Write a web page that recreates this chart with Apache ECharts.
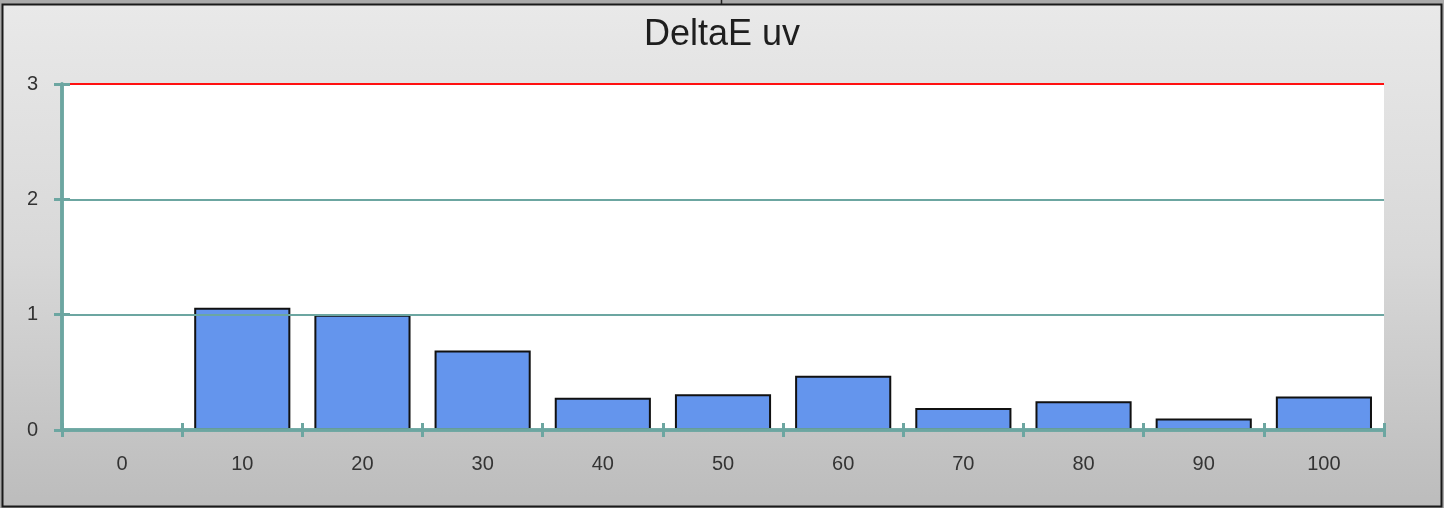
<!DOCTYPE html>
<html>
<head>
<meta charset="utf-8">
<script src="https://cdn.jsdelivr.net/npm/echarts@6/dist/echarts.min.js"></script>
<style>
html,body{margin:0;padding:0;background:#a9a9a9;}
#chart{width:1444px;height:508px;}
</style>
</head>
<body>
<div id="chart"></div>
<script>
var categories = ['0','10','20','30','40','50','60','70','80','90','100'];
var deltaEuv = [0, 1.06, 1.0, 0.69, 0.28, 0.31, 0.47, 0.19, 0.25, 0.10, 0.29];
var yTicks = [0, 1, 2, 3];

var teal = '#6ca6a1';
var chart = echarts.init(document.getElementById('chart'));
var font = '"Liberation Sans", Arial, sans-serif';
chart.setOption({
  animation: false,
  backgroundColor: 'transparent',
  title: {
    text: 'DeltaE uv',
    left: 'center',
    top: 12,
    textStyle: {fontFamily: font, fontSize: 36, fontWeight: 'normal', color: '#1e1e1e'}
  },
  graphic: [
    {type: 'rect', z: -10, silent: true, shape: {x: 0, y: 0, width: 1444, height: 508}, style: {fill: '#aaaaaa'}},
    {type: 'rect', z: -9, silent: true, shape: {x: 2.5, y: 4.5, width: 1439, height: 502},
      style: {
        fill: new echarts.graphic.LinearGradient(0, 0, 0, 1, [
          {offset: 0, color: '#e9e9e9'},
          {offset: 0.5, color: '#d8d8d8'},
          {offset: 1, color: '#bcbcbc'}
        ]),
        stroke: '#1a1a1a', lineWidth: 2
      }},
    {type: 'line', z: -8, silent: true, shape: {x1: 721.5, y1: 0, x2: 721.5, y2: 4}, style: {stroke: '#222', lineWidth: 1.5}}
  ],
  grid: {
    left: 62, right: 60, top: 84, bottom: 78,
    show: true, backgroundColor: '#ffffff', borderWidth: 0
  },
  xAxis: [{
    type: 'category',
    position: 'bottom',
    data: categories,
    z: 5,
    axisLine: {lineStyle: {color: teal, width: 3.5}},
    axisTick: {show: true, length: 7, lineStyle: {color: teal, width: 3}},
    axisLabel: {margin: 24, fontFamily: font, fontSize: 20, color: '#333'},
    splitLine: {show: false}
  }, {
    type: 'category',
    position: 'bottom',
    data: categories,
    z: 5,
    axisLine: {lineStyle: {color: teal, width: 3.5}},
    axisTick: {show: true, inside: true, length: 7, lineStyle: {color: teal, width: 3}},
    axisLabel: {show: false},
    splitLine: {show: false}
  }],
  yAxis: [{
    type: 'value',
    min: yTicks[0], max: yTicks[yTicks.length - 1], interval: 1,
    z: 5,
    axisLine: {show: true, lineStyle: {color: teal, width: 3.5}},
    axisTick: {show: true, length: 8, lineStyle: {color: teal, width: 3}},
    axisLabel: {margin: 24, fontFamily: font, fontSize: 20, color: '#333'},
    splitLine: {show: true, lineStyle: {color: [teal, teal, teal, '#ff1010'], width: 1.8}}
  }, {
    type: 'value',
    position: 'left',
    min: yTicks[0], max: yTicks[yTicks.length - 1], interval: 1,
    z: 5,
    axisLine: {show: true, lineStyle: {color: teal, width: 3.5}},
    axisTick: {show: true, inside: true, length: 8, lineStyle: {color: teal, width: 3}},
    axisLabel: {show: false},
    splitLine: {show: false}
  }],
  series: [{
    type: 'bar',
    xAxisIndex: 0,
    yAxisIndex: 0,
    data: deltaEuv,
    barCategoryGap: '20%',
    itemStyle: {color: '#6495ed', borderColor: '#111', borderWidth: 2}
  }]
});
</script>
</body>
</html>
